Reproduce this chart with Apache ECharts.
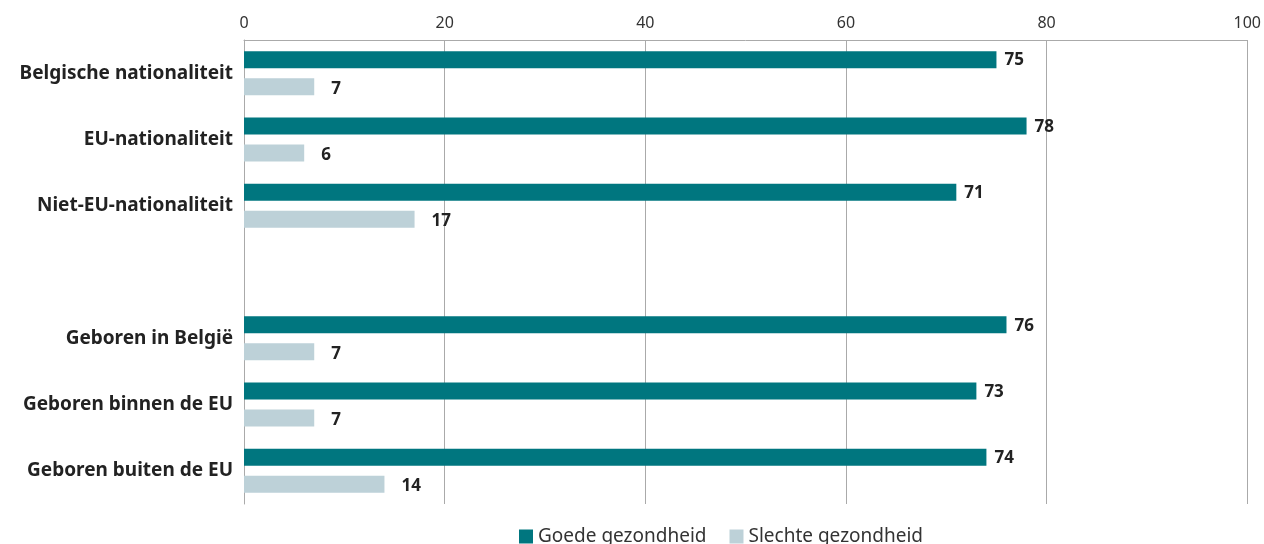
<!DOCTYPE html>
<html>
<head>
<meta charset="utf-8">
<script src="https://cdn.jsdelivr.net/npm/echarts@6/dist/echarts.min.js"></script>
<style>
  html, body { margin: 0; padding: 0; background: #fff; }
  #chart { width: 1264px; height: 544px; }
</style>
</head>
<body>
<div id="chart"></div>
<script>
// categorieën (lege rij = tussenruimte tussen de twee groepen)
const categories = [
  'Belgische nationaliteit',
  'EU-nationaliteit',
  'Niet-EU-nationaliteit',
  '',
  'Geboren in België',
  'Geboren binnen de EU',
  'Geboren buiten de EU'
]
const goede = [75, 78, 71, '-', 76, 73, 74]
const slechte = [7, 6, 17, '-', 7, 7, 14]
const xTicks = [0, 20, 40, 60, 80, 100]

const font = 'Noto Sans'
let myChart = echarts.init(document.getElementById('chart'))

myChart.setOption({
  animation: false,
  textStyle: { fontFamily: font },
  grid: { left: 244, right: 15, top: 40, bottom: 40 },
  legend: {
    bottom: -7,
    left: 514,
    itemWidth: 14,
    itemHeight: 14,
    itemGap: 23,
    icon: 'rect',
    textStyle: { fontSize: 19, color: '#333', fontFamily: font },
    data: ['Goede gezondheid', 'Slechte gezondheid']
  },
  xAxis: {
    type: 'value',
    position: 'top',
    min: xTicks[0],
    max: xTicks[xTicks.length - 1],
    interval: 20,
    axisLine: { show: true, lineStyle: { color: '#aaa' } },
    axisTick: { show: false },
    axisLabel: { fontSize: 16, color: '#333', margin: 9 },
    splitLine: { show: true, lineStyle: { color: '#aaa' } }
  },
  yAxis: {
    type: 'category',
    inverse: true,
    data: categories,
    axisLine: { show: true, lineStyle: { color: '#aaa' } },
    axisTick: { show: false },
    axisLabel: { fontSize: 19, fontWeight: 'bold', color: '#222', margin: 11 }
  },
  series: [
    {
      name: 'Goede gezondheid',
      type: 'bar',
      data: goede,
      barWidth: 17,
      barGap: '59%',
      itemStyle: { color: '#00767F' },
      label: { show: true, position: 'right', distance: 8, offset: [0, 1], fontSize: 17, fontWeight: 'bold', color: '#222' }
    },
    {
      name: 'Slechte gezondheid',
      type: 'bar',
      data: slechte,
      barWidth: 17,
      itemStyle: { color: '#BDD1D8' },
      label: { show: true, position: 'right', distance: 17, offset: [0, 2], fontSize: 17, fontWeight: 'bold', color: '#222' }
    }
  ]
})
</script>
</body>
</html>
